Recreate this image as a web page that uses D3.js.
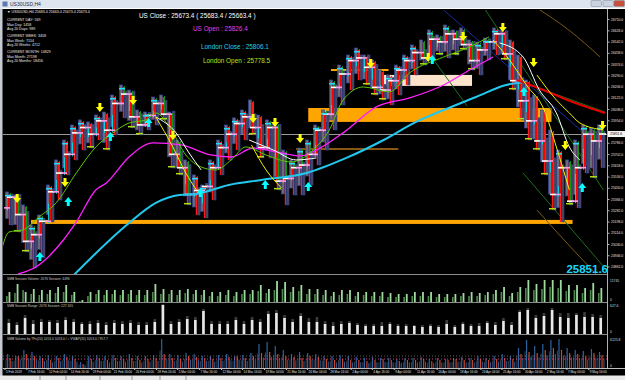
<!DOCTYPE html>
<html>
<head>
<meta charset="utf-8">
<script src="https://cdn.jsdelivr.net/npm/d3@7"></script>
<style>
html, body { margin: 0; padding: 0; background: #000; overflow: hidden; }
svg { display: block; }
</style>
</head>
<body>
<script>
// daily session data, US30 H4 window (Feb - May 2019)
const dates = ["5 Feb","6 Feb","7 Feb","8 Feb","11 Feb","12 Feb","13 Feb","14 Feb","15 Feb","18 Feb","19 Feb","20 Feb","21 Feb","22 Feb","25 Feb","26 Feb","27 Feb","28 Feb",
  "1 Mar","4 Mar","5 Mar","6 Mar","7 Mar","8 Mar","11 Mar","12 Mar","13 Mar","14 Mar","15 Mar","18 Mar","19 Mar","20 Mar","21 Mar","22 Mar","25 Mar","26 Mar","27 Mar","28 Mar","29 Mar",
  "1 Apr","2 Apr","3 Apr","4 Apr","5 Apr","8 Apr","9 Apr","10 Apr","11 Apr","12 Apr","15 Apr","16 Apr","17 Apr","18 Apr","19 Apr","22 Apr","23 Apr","24 Apr","25 Apr","26 Apr","29 Apr","30 Apr",
  "1 May","2 May","3 May","6 May","7 May","8 May","9 May","10 May","13 May","14 May","15 May","16 May","17 May"];
const opens = [25300,25380,25250,25050,25100,25200,25420,25560,25700,25860,
  25900,25850,25950,25880,26080,26150,25980,25920,25990,26080,
  26000,25700,25600,25400,25430,25460,25600,25750,25850,25930,
  25980,25900,25750,25900,25500,25520,25600,25620,25700,25880,
  26000,26200,26300,26400,26420,26350,26200,26180,26250,26330,
  26400,26460,26420,26560,26540,26600,26560,26520,26400,26480,
  26540,26600,26450,26250,26100,25950,25800,25650,25400,25600,
  25350,25600,25850,25800];
const highs = [25419,25396,25322,25172,25247,25471,25658,25807,25919,25957,
  25942,25994,26016,26143,26218,26180,26031,26016,26128,26143,
  26016,25807,25658,25546,25471,25658,25807,25919,25972,26031,
  26106,25994,25957,25930,25732,25658,25747,25807,25919,26031,
  26255,26367,26442,26494,26442,26405,26330,26293,26367,26442,
  26517,26554,26629,26592,26666,26629,26644,26554,26539,26569,
  26644,26629,26554,26442,26255,26143,26031,25882,25732,25658,
  25807,25919,25897,25920];
const lows = [25172,25120,24971,24851,24926,25195,25359,25546,25658,25732,
  25747,25807,25732,25845,25972,25897,25845,25882,25919,25957,
  25598,25546,25322,25247,25225,25359,25546,25658,25732,25807,
  25845,25673,25673,25434,25322,25396,25396,25471,25620,25732,
  25882,26069,26181,26255,26218,26143,26106,26069,26143,26218,
  26293,26367,26405,26442,26420,26442,26480,26330,26293,26405,
  26442,26405,26181,25957,25807,25732,25546,25284,25195,25322,
  25300,25560,25523,25600];
const closes = [25380,25250,25050,25100,25200,25420,25560,25700,25860,25900,
  25850,25950,25880,26080,26150,25980,25920,25990,26080,26000,
  25700,25600,25400,25430,25460,25600,25750,25850,25930,25980,
  25900,25750,25900,25500,25520,25600,25620,25700,25880,26000,
  26200,26300,26400,26420,26350,26200,26180,26250,26330,26400,
  26460,26420,26560,26540,26600,26560,26520,26400,26480,26540,
  26600,26450,26250,26100,25950,25800,25650,25400,25600,25350,
  25600,25850,25800,25851.6];

const priceTicks = [26710,26626,26542,26458,26374,26290,26206,26122,26038,25954,25870,25786,
  25702,25618,25534,25450,25366,25282,25198,25114,25030,24946,24862];
const lastPrice = 25851.6;

// moving averages as [day, price]
const maCyan = [[8.5,24799],[15.3,25187],[18.6,25337],[21.5,25396],[23.6,25404],[27.6,25471],[31.6,25508],
  [37.2,25561],[42.1,25673],[46.7,25807],[50.7,25942],[54.1,26031],[58.1,26128],[61.8,26218],[64.3,26240]];
const maRed = [[63.1,26255],[66.4,26181],[69.6,26100],[74,26009]];
const maMagenta = [[1.6,24806],[3.8,24858],[7.2,25060],[8.8,25195],[11.2,25434],[12.5,25486],[15.3,25680],
  [18.3,25785],[21.7,25770],[25.4,25695],[27.9,25680],[30.6,25747],[33.5,25718],[36.5,25688],[38.4,25732],
  [41.7,25860],[45.8,26054],[49.9,26121],[54.1,26218],[57.3,26330],[60.2,26427]];
const maGreen = [[-0.5,24971],[0.5,25120],[2.2,25135],[4.2,25232],[6.3,25337],[8.8,25561],[11.2,25755],
  [13.3,25860],[15.3,25934],[17.4,25957],[18.6,26009],[20.5,25882],[22.3,25695],[24.2,25605],[26.0,25583],
  [27.9,25658],[29.7,25755],[32.2,25695],[35.3,25643],[38.0,25732],[40.0,25882],[41.7,26106],[44.2,26203],
  [47.4,26166],[49.9,26308],[54.1,26427],[57.3,26502],[59.7,26577]];
const maWhite = [
  [[18.6,25979],[21.1,25860],[22.7,25710],[24.2,25583]],
  [[30.1,25807],[33.1,25732],[35.9,25658],[38.4,25673]],
  [[61.0,26532],[63.9,26427],[65.9,26181],[68.0,26009],[69.6,25755],[70.9,25658]]];
const maYellow = [
  [[18.6,25979],[20.7,25755],[22.3,25561],[23.6,25434]],
  [[30.4,25770],[32.2,25583],[34.1,25449]],
  [[60.2,26554],[62.4,26390],[64.3,26218],[66.5,26031],[68.0,25755],[69.6,25434]],
  [[65.6,26293],[68.0,26106],[69.6,26009],[70.9,25934],[73.8,25882]]];

// signal arrows [day, price]
const sellArrows = [[1.0,25337],[6.9,25456],[11.2,26016],[15.3,26069],[20.2,25807],[30.1,25934],[32.8,25904],
  [35.9,25785],[44.6,26345],[51.7,26390],[56.0,26547],[60.9,26614],[64.7,26352],[68.6,25732],[73.2,25882]];
const buyArrows = [[3.8,24971],[7.3,25381],[12.5,25867],[17.2,25972],[23.6,25449],[31.6,25508],[36.9,25493],
  [52.2,26442],[63.5,26203],[70.7,25486]];

// zones [day0, day1, top, bottom] and levels [day0, day1, price]
const orangeZones = [[37.4,67.4,26046,25942],[3.2,70.0,25210,25180]];
const peachZones = [[46.7,57.6,26293,26211]];
const orangeLevels = [[40.2,47.3,26330]];
const brownLevels = [[35.9,48.5,25740]];

// fan lines [[day, price], ...]
const blueLines = [[[54.1,26778],[73.8,25732]]];
const greenLines = [[[59.1,26793],[73.8,25434]],[[63.1,26255],[74,26016]],[[52.7,26420],[57.0,26060]],[[63.9,25560],[74,24850]]];
const brownLines = [[[65.6,26793],[69.5,26630],[73.4,26427]],[[65.6,25284],[70.9,24933],[73,24800]]];

// sub windows
const volTall = [10,18,10,13,12,12,15,17,10,2,10,12,12,12,12,12,12,12,18,13,12,12,13,12,12,10,10,12,10,12,
  12,17,13,21,20,15,17,13,13,12,10,12,12,10,10,10,10,9,8,8,10,10,10,8,8,8,9,10,9,10,
  12,15,9,15,22,18,22,22,22,17,17,14,19,14];
const volShort = [6,9,12,8,7,8,9,10,7,1,6,8,7,8,7,8,7,7,10,8,8,7,9,8,7,6,6,7,6,8,
  8,11,9,12,13,10,11,8,8,7,6,7,8,6,7,6,6,5,5,5,6,6,6,5,5,5,6,6,6,7,
  8,10,6,10,14,12,13,15,14,11,12,9,12,9];
const rangeWhite = [11,9,16,10,12,12,11,14,12,10,10,11,9,11,10,11,9,9,12,29,10,12,15,14,23,10,10,10,14,10,
  14,12,20,21,16,12,18,12,12,10,8,10,11,9,8,8,8,10,8,8,8,7,8,7,10,7,10,8,8,11,
  9,13,9,22,24,16,18,24,17,16,19,17,17,16];
const rangeGray = [15,12,19,14,15,14,14,17,15,12,13,14,12,14,13,14,12,12,15,30,13,15,18,17,25,13,13,13,17,13,
  17,15,23,24,19,15,21,16,17,13,12,13,13,11,10,10,12,12,10,10,9,9,10,9,14,9,12,10,11,13,
  12,16,12,24,26,19,21,26,21,21,21,22,20,19];
const tfBlue = [14,12,18,16,12,13,12,14,12,6,12,13,12,13,12,14,12,12,13,29,14,13,15,14,12,12,13,14,12,13,
  15,24,26,22,18,14,16,15,14,12,12,13,12,11,10,11,10,10,9,10,10,11,9,10,9,10,11,10,12,10,
  12,14,12,20,28,22,24,28,29,20,18,17,19,16];
const tfRed = [10,12,14,12,10,8,10,11,9,4,9,10,8,10,9,10,8,9,10,14,10,9,12,11,10,9,10,11,12,10,
  12,15,16,14,12,11,10,12,11,9,8,9,8,8,7,8,9,8,7,8,8,9,7,8,8,9,8,8,9,8,
  9,10,9,14,16,15,18,20,18,15,14,12,15,13];

const timeLabels = [[0,"5 Feb 2019"],[2.7,"7 Feb 16:00"],[5.3,"12 Feb 04:00"],[8,"14 Feb 16:00"],[10.7,"19 Feb 04:00"],
  [13.3,"21 Feb 16:00"],[16,"26 Feb 04:00"],[18.7,"28 Feb 16:00"],[21.3,"5 Mar 04:00"],[24,"7 Mar 16:00"],
  [26.7,"12 Mar 04:00"],[29.3,"14 Mar 16:00"],[32,"19 Mar 04:00"],[34.7,"21 Mar 16:00"],[37.3,"26 Mar 04:00"],
  [40,"28 Mar 16:00"],[42.7,"2 Apr 04:00"],[45.3,"4 Apr 16:00"],[48,"9 Apr 04:00"],[50.7,"11 Apr 16:00"],
  [53.3,"16 Apr 04:00"],[56,"18 Apr 16:00"],[58.7,"23 Apr 04:00"],[61.3,"25 Apr 16:00"],[64,"30 Apr 04:00"],
  [66.7,"2 May 16:00"],[69.3,"7 May 04:00"],[72,"9 May 16:00"]];

const W = 625, H = 380;
const plot = { left: 3, right: 607, top: 10, bottom: 274 };
const font = "Liberation Sans, Arial, sans-serif";

const svg = d3.select("body").append("svg").attr("width", W).attr("height", H);
svg.append("rect").attr("width", W).attr("height", H).attr("fill", "#000");

const x = d3.scaleLinear().domain([0, 74]).range([5, 605]);
const y = d3.scaleLinear().domain([24806, 26778]).range([plot.bottom, plot.top]);

svg.append("clipPath").attr("id", "clipMain").append("rect")
  .attr("x", plot.left).attr("y", plot.top).attr("width", plot.right - plot.left).attr("height", plot.bottom - plot.top);

const main = svg.append("g").attr("clip-path", "url(#clipMain)");

// zones under everything
main.selectAll(".zone").data(orangeZones).enter().append("rect")
  .attr("x", d => x(d[0])).attr("width", d => x(d[1]) - x(d[0]))
  .attr("y", d => y(d[2])).attr("height", d => y(d[3]) - y(d[2]))
  .attr("fill", "#ffa500");
main.selectAll(".peach").data(peachZones).enter().append("rect")
  .attr("x", d => x(d[0])).attr("width", d => x(d[1]) - x(d[0]))
  .attr("y", d => y(d[2])).attr("height", d => y(d[3]) - y(d[2]))
  .attr("fill", "#fde3cc");
main.selectAll(".olev").data(orangeLevels).enter().append("line")
  .attr("x1", d => x(d[0])).attr("x2", d => x(d[1])).attr("y1", d => y(d[2])).attr("y2", d => y(d[2]))
  .attr("stroke", "#ffa500").attr("stroke-width", 2);
main.selectAll(".blev").data(brownLevels).enter().append("line")
  .attr("x1", d => x(d[0])).attr("x2", d => x(d[1])).attr("y1", d => y(d[2])).attr("y2", d => y(d[2]))
  .attr("stroke", "#b8741a").attr("stroke-width", 1.5);

// current price line
main.append("line").attr("x1", plot.left).attr("x2", plot.right)
  .attr("y1", Math.round(y(lastPrice)) + 0.5).attr("y2", Math.round(y(lastPrice)) + 0.5)
  .attr("stroke", "#9a9a9a").attr("stroke-width", 1);

const lineGen = d3.line().x(d => x(d[0])).y(d => y(d[1]));
const smooth = d3.line().x(d => x(d[0])).y(d => y(d[1])).curve(d3.curveMonotoneX);

// fan lines
blueLines.forEach(l => main.append("path").attr("d", lineGen(l)).attr("fill", "none").attr("stroke", "#1c2a9c").attr("stroke-width", 1));
greenLines.forEach(l => main.append("path").attr("d", lineGen(l)).attr("fill", "none").attr("stroke", "#1f6e1f").attr("stroke-width", 1));
brownLines.forEach(l => main.append("path").attr("d", smooth(l)).attr("fill", "none").attr("stroke", "#7a5a14").attr("stroke-width", 1));

// session bars
const days = dates.map((d, i) => ({ date: d, o: opens[i], h: highs[i], l: lows[i], c: closes[i] }));
const bars = main.append("g");
days.forEach((d, i) => {
  const cx = Math.round(x(i + 0.5));
  const yH = y(d.h), yL = y(d.l), yO = y(d.o), yC = y(d.c);
  const top = Math.min(yO, yC), bot = Math.max(yO, yC);
  const up = d.c >= d.o;
  bars.append("rect").attr("x", cx - 3.5).attr("y", yH).attr("width", 3).attr("height", (yL - yH) * 0.8)
    .attr("fill", "#6a6a78").attr("stroke", "#33479a").attr("stroke-width", 0.7);
  bars.append("rect").attr("x", cx + 1.5).attr("y", top - 3).attr("width", 2.5).attr("height", yL - top + 3)
    .attr("fill", "#4c4456").attr("stroke", "#33479a").attr("stroke-width", 0.6);
  bars.append("rect").attr("x", cx - 0.2).attr("y", yH + 2).attr("width", 1.2).attr("height", yL - yH - 2).attr("fill", "#ff1a1a");
  bars.append("rect").attr("x", cx - 1).attr("y", top).attr("width", 2).attr("height", Math.max(1.5, bot - top)).attr("fill", "#ff0000");
  bars.append("rect").attr("x", cx - 2).attr("y", Math.min(yO, (yH + yL) / 2)).attr("width", 0.9)
    .attr("height", Math.abs(yO - (yH + yL) / 2) + 2).attr("fill", "#10d8e0");
  bars.append("rect").attr("x", cx + 1).attr("y", yH + 1).attr("width", 0.9).attr("height", Math.max(2, yC - yH)).attr("fill", "#12a012");
  // session marks
  bars.append("rect").attr("x", cx - 2).attr("y", yC - 0.8).attr("width", 7).attr("height", 1.6).attr("fill", "#ffffff");
  bars.append("rect").attr("x", cx - 5).attr("y", yO - 0.8).attr("width", 6).attr("height", 1.6).attr("fill", "#ff9ce8");
  if (up) {
    bars.append("rect").attr("x", cx - 4).attr("y", yH + 3).attr("width", 6).attr("height", 1.5).attr("fill", "#20e0ff");
  } else {
    bars.append("rect").attr("x", cx - 3).attr("y", yL - 2).attr("width", 7).attr("height", 1.5).attr("fill", "#a8e010");
  }
});

// moving averages
main.append("path").attr("d", smooth(maMagenta)).attr("fill", "none").attr("stroke", "#ff20ff").attr("stroke-width", 1.3);
main.append("path").attr("d", smooth(maGreen)).attr("fill", "none").attr("stroke", "#5cc400").attr("stroke-width", 1);
main.append("path").attr("d", smooth(maCyan)).attr("fill", "none").attr("stroke", "#22c8ee").attr("stroke-width", 2);
main.append("path").attr("d", smooth(maRed)).attr("fill", "none").attr("stroke", "#e00000").attr("stroke-width", 2.2);
maWhite.forEach(s => main.append("path").attr("d", smooth(s)).attr("fill", "none").attr("stroke", "#ffffff").attr("stroke-width", 1));
maYellow.forEach(s => main.append("path").attr("d", smooth(s)).attr("fill", "none").attr("stroke", "#f0f000").attr("stroke-width", 1));

// arrows
function arrow(cx, tip, dir) {
  // dir = 1 pointing down, -1 pointing up
  const s = dir;
  return `M${cx - 1.5},${tip - s * 9} L${cx + 1.5},${tip - s * 9} L${cx + 1.5},${tip - s * 5} L${cx + 4},${tip - s * 5}` +
    ` L${cx},${tip} L${cx - 4},${tip - s * 5} L${cx - 1.5},${tip - s * 5} Z`;
}
main.selectAll(".sell").data(sellArrows).enter().append("path")
  .attr("d", d => arrow(x(d[0] + 0.5), y(d[1]), 1)).attr("fill", "#ffff00");
main.selectAll(".buy").data(buyArrows).enter().append("path")
  .attr("d", d => arrow(x(d[0] + 0.5), y(d[1]), -1)).attr("fill", "#00ffff");

// price axis
svg.append("line").attr("x1", 607.5).attr("x2", 607.5).attr("y1", 9).attr("y2", 369).attr("stroke", "#b0b0b0");
const yAxis = d3.axisRight(y).tickValues(priceTicks.filter(p => Math.abs(y(p) - y(lastPrice)) > 4))
  .tickSize(2).tickFormat(d => d.toFixed(1));
const ay = svg.append("g").attr("transform", "translate(607.5,0)").call(yAxis);
ay.select(".domain").remove();
ay.selectAll("line").attr("stroke", "#b0b0b0");
ay.selectAll("text").attr("fill", "#e0e0e0").attr("font-size", 3.4).attr("font-family", font).attr("x", 3.5);

// current price tag
svg.append("rect").attr("x", 608).attr("y", y(lastPrice) - 3).attr("width", 17).attr("height", 6).attr("fill", "#f4f4f4");
svg.append("text").attr("x", 610).attr("y", y(lastPrice) + 1.3).text(lastPrice.toFixed(1))
  .attr("font-size", 3.4).attr("font-family", font).attr("fill", "#000");

// panels separators
[274.5, 302.5, 334.5].forEach(v => svg.append("line").attr("x1", 3).attr("x2", 607).attr("y1", v).attr("y2", v).attr("stroke", "#8c8c8c"));
svg.append("line").attr("x1", 3).attr("x2", 625).attr("y1", 368.5).attr("y2", 368.5).attr("stroke", "#c0c0c0");

// volume panel
const yVol = d3.scaleLinear().domain([0, 22]).range([302, 280]);
svg.append("g").selectAll("rect").data(volShort).enter().append("rect")
  .attr("x", (d, i) => x(i + 0.5) - 3).attr("width", 1.6)
  .attr("y", d => yVol(d)).attr("height", d => 302 - yVol(d)).attr("fill", "#4e8a4e");
svg.append("g").selectAll("rect").data(volTall).enter().append("rect")
  .attr("x", (d, i) => x(i + 0.5) - 0.5).attr("width", 1.8)
  .attr("y", d => yVol(d)).attr("height", d => 302 - yVol(d)).attr("fill", "#9fd99f");

// range panel
const yRng = d3.scaleLinear().domain([0, 29]).range([334, 305]);
svg.append("g").selectAll("rect").data(rangeGray).enter().append("rect")
  .attr("x", (d, i) => x(i + 0.5) - 1.5).attr("width", 2.6)
  .attr("y", d => yRng(d)).attr("height", d => 334 - yRng(d)).attr("fill", "#3c3c3c");
svg.append("g").selectAll("rect").data(rangeWhite).enter().append("rect")
  .attr("x", (d, i) => x(i + 0.5) - 1.5).attr("width", 2.6)
  .attr("y", d => yRng(d)).attr("height", d => 334 - yRng(d)).attr("fill", "#e8e8e8");

// tf volume panel
const yTf = d3.scaleLinear().domain([0, 29]).range([368, 339]);
const tfG = svg.append("g");
tfBlue.forEach((v, i) => {
  const cx = x(i + 0.5);
  tfG.append("rect").attr("x", cx - 3.5).attr("width", 1).attr("y", yTf(v * 0.6)).attr("height", 368 - yTf(v * 0.6)).attr("fill", "#3a4150");
  tfG.append("rect").attr("x", cx - 2).attr("width", 1.2).attr("y", yTf(v)).attr("height", 368 - yTf(v)).attr("fill", "#2e62a0");
  tfG.append("rect").attr("x", cx + 0.5).attr("width", 1.2).attr("y", yTf(tfRed[i])).attr("height", 368 - yTf(tfRed[i])).attr("fill", "#cc4630");
  tfG.append("rect").attr("x", cx + 2.5).attr("width", 1).attr("y", yTf(tfRed[i] * 0.7)).attr("height", 368 - yTf(tfRed[i] * 0.7)).attr("fill", "#2e62a0");
});
svg.append("line").attr("x1", 3).attr("x2", 607).attr("y1", yTf(9)).attr("y2", yTf(9))
  .attr("stroke", "#ff4fa0").attr("stroke-dasharray", "1,2").attr("stroke-width", 0.8);
svg.append("line").attr("x1", 3).attr("x2", 607).attr("y1", yTf(12)).attr("y2", yTf(12))
  .attr("stroke", "#707070").attr("stroke-dasharray", "1,2").attr("stroke-width", 0.8);

// sub-panel scale labels
const subLabels = [[282, "11745"], [301, "0"], [307, "627.6"], [333, "0"], [341, "6125.8"], [367, "0"]];
svg.selectAll(".sublab").data(subLabels).enter().append("text")
  .attr("x", 610).attr("y", d => d[0]).text(d => d[1])
  .attr("font-size", 3.4).attr("font-family", font).attr("fill", "#d8d8d8");

// time axis
const tg = svg.append("g");
timeLabels.forEach(t => {
  const px = x(t[0]);
  if (px > 606) return;
  tg.append("line").attr("x1", px).attr("x2", px).attr("y1", 368).attr("y2", 370).attr("stroke", "#c0c0c0");
  tg.append("text").attr("x", px + 1).attr("y", 373).text(t[1])
    .attr("font-size", 3.1).attr("font-family", font).attr("fill", "#e0e0e0");
});

// texts
const small = (tx, ty, s, col, fs) => svg.append("text").attr("x", tx).attr("y", ty).text(s)
  .attr("font-size", fs || 3.6).attr("font-family", font).attr("fill", col || "#e8e8e8");
small(7, 13, "\u25BC US30USD,H4  25683.4 25663.4 25673.4 25673.4");
small(7, 21, "CURRENT DAY: 569");
small(7, 25.5, "Max Day: 1458");
small(7, 30, "Avg 20 Days: 989");
small(7, 37, "CURRENT WEEK: 3458");
small(7, 41.5, "Max Week: 7154");
small(7, 46, "Avg 20 Weeks: 4712");
small(7, 53, "CURRENT MONTH: 14829");
small(7, 57.5, "Max Month: 27198");
small(7, 62, "Avg 20 Months: 18456");
small(7, 279.5, "SMB Session Volume: 2076 Session: 4496", "#c8c8c8", 3.3);
small(7, 307, "SMB Session Range: 2076 Session: 227.165", "#c8c8c8", 3.3);
small(7, 339.5, "SMB Volume by TFs(20) 1053.0 1053.0 / ≈ VWAP(20) 1053.0 / 957.7", "#c8c8c8", 3.3);

const big = (tx, ty, s, col) => svg.append("text").attr("x", tx).attr("y", ty).text(s)
  .attr("font-size", 6.4).attr("font-family", font).attr("fill", col);
big(139, 18, "US Close : 25673.4  ( 25683.4 / 25663.4 )", "#ffffff");
big(193, 31, "US Open : 25826.4", "#e040e0");
big(201, 49, "London Close : 25806.1", "#22d2e6");
big(203, 63, "London Open : 25778.5", "#b4e61e");

svg.append("text").attr("x", 608).attr("y", 273).attr("text-anchor", "end").text(lastPrice.toFixed(1))
  .attr("font-size", 11.5).attr("font-weight", "bold").attr("font-family", font).attr("fill", "#18d8f8");

// window frame
svg.append("rect").attr("x", 0).attr("y", 0).attr("width", W).attr("height", 8.5).attr("fill", "#dfe5ee");
svg.append("line").attr("x1", 0).attr("x2", W).attr("y1", 8.5).attr("y2", 8.5).attr("stroke", "#ffffff");
svg.append("rect").attr("x", 2.5).attr("y", 1.5).attr("width", 5).attr("height", 5).attr("fill", "#5a7ab0");
svg.append("text").attr("x", 10).attr("y", 6.3).text("US30USD,H4").attr("font-size", 5).attr("font-family", font).attr("fill", "#1a2a44");
[[591, "#c9d2df"], [603, "#c9d2df"], [614, "#c8503a"]].forEach(b =>
  svg.append("rect").attr("x", b[0]).attr("y", 0.5).attr("width", 10.5).attr("height", 6).attr("rx", 1).attr("fill", b[1]).attr("stroke", "#7d8797").attr("stroke-width", 0.5));
svg.append("rect").attr("x", 0).attr("y", 8.5).attr("width", 2.5).attr("height", H).attr("fill", "#c6cbd3");
svg.append("rect").attr("x", 0).attr("y", 375.5).attr("width", W).attr("height", 4.5).attr("fill", "#e9e9e9");
[40, 66, 100, 132, 160, 186].forEach(v => svg.append("line").attr("x1", v).attr("x2", v).attr("y1", 376).attr("y2", 380).attr("stroke", "#9a9a9a"));
</script>
</body>
</html>
